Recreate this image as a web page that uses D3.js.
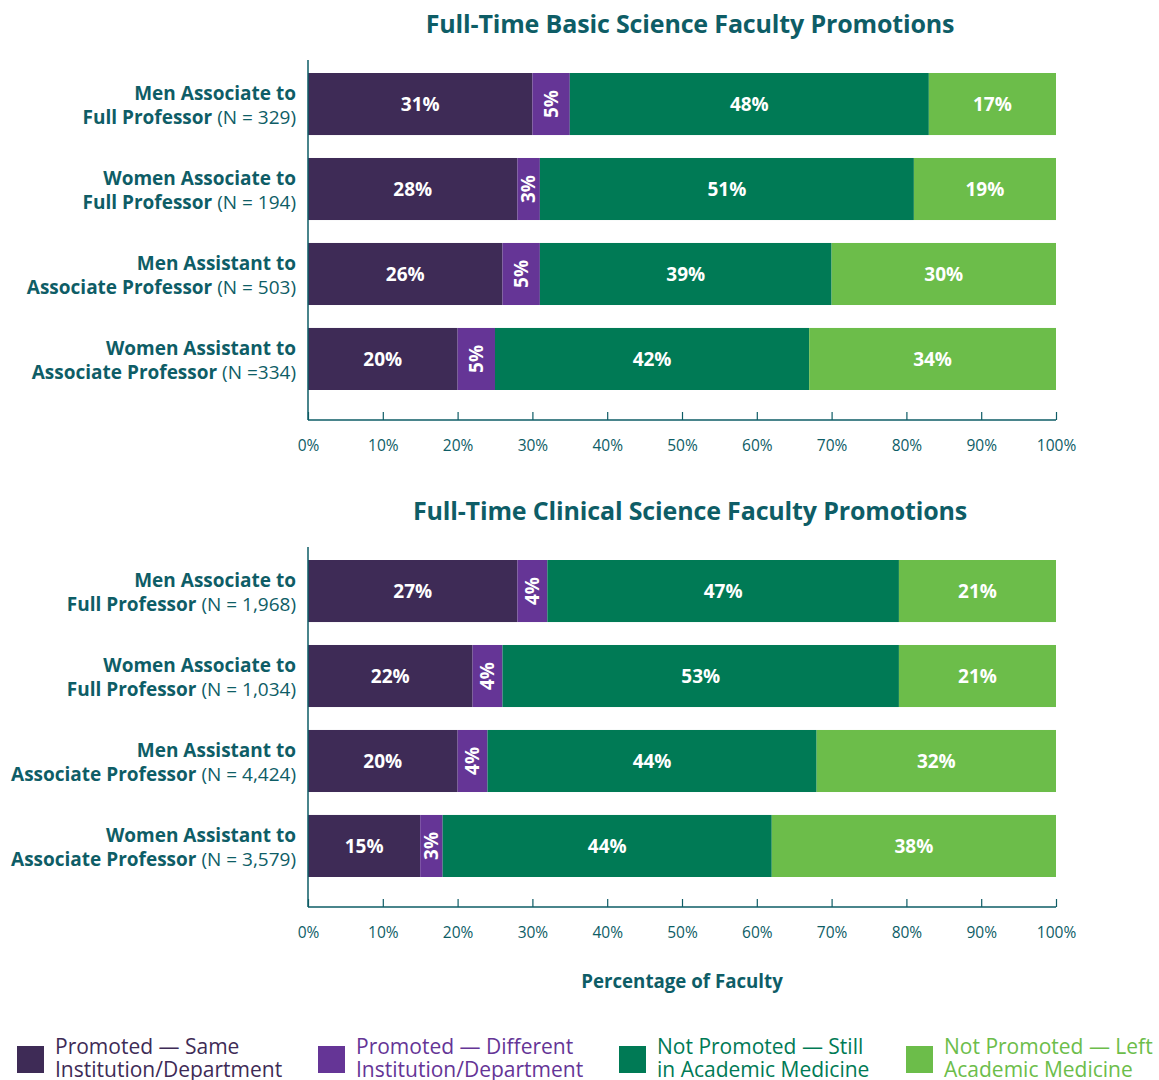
<!DOCTYPE html>
<html>
<head>
<meta charset="utf-8">
<script src="https://cdn.jsdelivr.net/npm/d3@7"></script>
<style>
  body { margin: 0; background: #fff; }
  text { font-family: "Open Sans", "Noto Sans", sans-serif; }
</style>
</head>
<body>
<script>
const basicRows = [
  ["Men Associate to", "Full Professor", "(N = 329)"],
  ["Women Associate to", "Full Professor", "(N = 194)"],
  ["Men Assistant to", "Associate Professor", "(N = 503)"],
  ["Women Assistant to", "Associate Professor", "(N =334)"]
];
const clinicalRows = [
  ["Men Associate to", "Full Professor", "(N = 1,968)"],
  ["Women Associate to", "Full Professor", "(N = 1,034)"],
  ["Men Assistant to", "Associate Professor", "(N = 4,424)"],
  ["Women Assistant to", "Associate Professor", "(N = 3,579)"]
];

// printed percentages
const basicLabels = [[31, 5, 48, 17], [28, 3, 51, 19], [26, 5, 39, 30], [20, 5, 42, 34]];
const clinicalLabels = [[27, 4, 47, 21], [22, 4, 53, 21], [20, 4, 44, 32], [15, 3, 44, 38]];
// segment lengths as drawn in the picture
const basicBars = [[30, 5, 48, 17], [28, 3, 50, 19], [26, 5, 39, 30], [20, 5, 42, 33]];
const clinicalBars = [[28, 4, 47, 21], [22, 4, 53, 21], [20, 4, 44, 32], [15, 3, 44, 38]];

const seriesNames = [
  ["Promoted \u2014 Same", "Institution/Department"],
  ["Promoted \u2014 Different", "Institution/Department"],
  ["Not Promoted \u2014 Still", "in Academic Medicine"],
  ["Not Promoted \u2014 Left", "Academic Medicine"]
];
const colors = ["#3e2b56", "#653596", "#007a55", "#6cbd4a"];
const ticks = [0, 10, 20, 30, 40, 50, 60, 70, 80, 90, 100];
const teal = "#0e5d66";

const svg = d3.select("body").append("svg")
  .attr("width", 1159).attr("height", 1080);

const x = d3.scaleLinear().domain([0, 100]).range([308, 1056]);

function drawChart(title, rows, labels, bars, top) {
  const g = svg.append("g").attr("transform", "translate(0," + top + ")");
  const y = d3.scaleBand().domain(d3.range(rows.length)).range([0, 317]).paddingInner(0.27).paddingOuter(0);

  g.append("text")
    .attr("x", 690).attr("y", -40)
    .attr("text-anchor", "middle")
    .attr("fill", teal)
    .attr("font-size", 25).attr("font-weight", 700)
    .attr("letter-spacing", -0.15)
    .text(title);

  bars.forEach((vals, i) => {
    let acc = 0;
    const row = g.append("g");
    vals.forEach((v, j) => {
      const x0 = x(acc), x1 = x(acc + v);
      row.append("rect")
        .attr("x", x0).attr("y", y(i))
        .attr("width", x1 - x0).attr("height", y.bandwidth())
        .attr("fill", colors[j]);
      const cx = (x0 + x1) / 2, cy = y(i) + y.bandwidth() / 2;
      const t = row.append("text")
        .attr("fill", "#fff").attr("font-size", 19).attr("font-weight", 700)
        .attr("text-anchor", "middle").attr("dy", "0.35em")
        .text(labels[i][j] + "%");
      if (j === 1) t.attr("transform", "translate(" + cx + "," + cy + ") rotate(-90)");
      else t.attr("x", cx).attr("y", cy);
      acc += v;
    });

    const lab = g.append("text")
      .attr("text-anchor", "end").attr("fill", teal).attr("font-size", 19);
    const cy = y(i) + y.bandwidth() / 2;
    lab.append("tspan").attr("x", 296).attr("y", cy - 4)
      .attr("font-weight", 700).text(rows[i][0]);
    const l2 = lab.append("tspan").attr("x", 296).attr("y", cy + 20);
    l2.append("tspan").attr("font-weight", 700).text(rows[i][1] + " ");
    l2.append("tspan").attr("font-weight", 400).text(rows[i][2]);
  });

  const axis = g.append("g").attr("transform", "translate(0,347)")
    .call(d3.axisBottom(x).tickValues(ticks).tickSize(-8).tickPadding(20)
      .tickFormat(d => d + "%"));
  axis.select(".domain").attr("stroke", teal).attr("stroke-width", 1.5).attr("d", "M308,0H1056");
  axis.selectAll(".tick line").attr("stroke", teal).attr("stroke-width", 1.2);
  axis.selectAll(".tick text").attr("fill", teal).attr("font-size", 15.5)
    .attr("font-family", "'Open Sans', sans-serif");

  g.append("line")
    .attr("x1", 308).attr("x2", 308).attr("y1", -13).attr("y2", 347)
    .attr("stroke", teal).attr("stroke-width", 1.5);
}

drawChart("Full-Time Basic Science Faculty Promotions", basicRows, basicLabels, basicBars, 73);
drawChart("Full-Time Clinical Science Faculty Promotions", clinicalRows, clinicalLabels, clinicalBars, 560);

svg.append("text")
  .attr("x", 682).attr("y", 988)
  .attr("text-anchor", "middle").attr("fill", teal)
  .attr("font-size", 18.7).attr("font-weight", 700)
  .text("Percentage of Faculty");

const legendX = [17, 318, 619, 906];
seriesNames.forEach((s, i) => {
  const lg = svg.append("g").attr("transform", "translate(" + legendX[i] + ",1046)");
  lg.append("rect").attr("width", 27).attr("height", 27).attr("fill", colors[i]);
  const t = lg.append("text").attr("fill", colors[i]).attr("font-size", 21);
  t.append("tspan").attr("x", 38).attr("y", 8).text(s[0]);
  t.append("tspan").attr("x", 38).attr("y", 31).text(s[1]);
});
</script>
</body>
</html>
